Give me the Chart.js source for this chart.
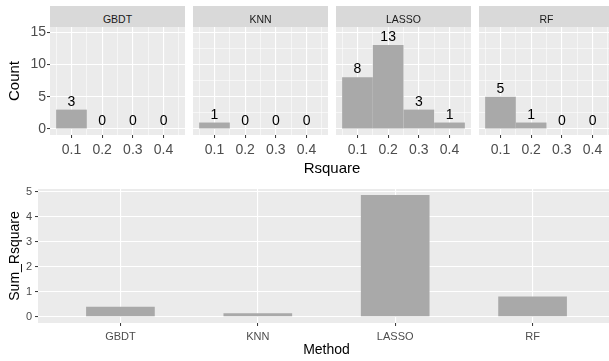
<!DOCTYPE html>
<html>
<head>
<meta charset="utf-8">
<script src="https://cdn.jsdelivr.net/npm/chart.js@4.4.1/dist/chart.umd.min.js"></script>
<style>
  html, body { margin: 0; padding: 0; background: #fff; overflow: hidden; }
  #wrap { position: relative; width: 609px; height: 361px; overflow: hidden;
          font-family: "Liberation Sans", Arial, sans-serif; }
  canvas { position: absolute; }
  .strip { position: absolute; top: 6px; width: 135px; height: 21px; background: #d9d9d9;
           color: #1a1a1a; font-size: 10.5px; line-height: 26px; text-align: center; }
  #rsq { position: absolute; left: 282px; width: 100px; top: 159px; font-size: 15px;
         line-height: 18px; text-align: center; color: #000; }
</style>
</head>
<body>
<div id="wrap">
  <canvas id="p0" width="185" height="140" style="left:0;top:20px"></canvas>
  <canvas id="p1" width="135" height="140" style="left:193px;top:20px"></canvas>
  <canvas id="p2" width="135" height="140" style="left:336px;top:20px"></canvas>
  <canvas id="p3" width="135" height="140" style="left:479px;top:20px"></canvas>
  <div class="strip" style="left:50px">GBDT</div>
  <div class="strip" style="left:193px">KNN</div>
  <div class="strip" style="left:336px">LASSO</div>
  <div class="strip" style="left:479px">RF</div>
  <div id="rsq">Rsquare</div>
  <canvas id="bottom" width="615" height="181" style="left:0;top:180px"></canvas>
</div>
<script>
// data
const methods = ["GBDT", "KNN", "LASSO", "RF"];
const bins = [0.1, 0.2, 0.3, 0.4];
const countGBDT = [3, 0, 0, 0];
const countKNN = [1, 0, 0, 0];
const countLASSO = [8, 13, 3, 1];
const countRF = [5, 1, 0, 0];
const sumRsquare = [0.41, 0.15, 4.87, 0.81];

// grid / tick positions (majors get labels, halves are minor lines)
const binGrid = [0.05, 0.1, 0.15, 0.2, 0.25, 0.3, 0.35, 0.4, 0.45];
const countGrid = [0, 2.5, 5, 7.5, 10, 12.5, 15];
const sumGrid = [0, 0.5, 1, 1.5, 2, 2.5, 3, 3.5, 4, 4.5, 5];

const FONT = '"Liberation Sans", Arial, sans-serif';
const panelCounts = [countGBDT, countKNN, countLASSO, countRF];

const isMajorBin = v => Math.abs(v * 10 - Math.round(v * 10)) < 1e-6;
const isMajorCount = v => v % 5 === 0;
const isMajorSum = v => Number.isInteger(v);

const panelBg = {
  id: "panelBg",
  beforeDraw(chart) {
    const { ctx, chartArea: a } = chart;
    ctx.save();
    ctx.fillStyle = "#ebebeb";
    ctx.fillRect(a.left, a.top, a.right - a.left, a.bottom - a.top);
    ctx.restore();
  }
};

const barLabels = {
  id: "barLabels",
  afterDatasetsDraw(chart) {
    const { ctx } = chart;
    const ds = chart.data.datasets[0];
    ctx.save();
    ctx.font = "14px " + FONT;
    ctx.fillStyle = "#000";
    ctx.textAlign = "center";
    ctx.textBaseline = "alphabetic";
    chart.getDatasetMeta(0).data.forEach((bar, i) => {
      ctx.fillText(String(ds.data[i].y), bar.x, bar.y - 4);
    });
    ctx.restore();
  }
};

function gridOpts(isMajor, majorW, minorW, showTicks) {
  return {
    offset: false,
    color: "#ffffff",
    lineWidth: c => (c.tick && isMajor(c.tick.value)) ? majorW : minorW,
    drawTicks: showTicks,
    tickLength: 3,
    tickWidth: 1,
    tickColor: c => (c.tick && isMajor(c.tick.value)) ? "#333333" : "rgba(0,0,0,0)"
  };
}

function histPanel(id, counts, first) {
  return new Chart(document.getElementById(id), {
    type: "bar",
    data: {
      datasets: [{
        data: bins.map((b, i) => ({ x: b, y: counts[i] })),
        backgroundColor: "#a9a9a9",
        borderWidth: 0,
        categoryPercentage: 1,
        // ruler uses the 0.05 grid spacing, so 2 gives a full 0.1 bin
        barPercentage: 2
      }]
    },
    options: {
      responsive: false,
      animation: false,
      layout: { padding: { top: 7, left: 0, right: 0, bottom: 0 } },
      plugins: { legend: { display: false }, tooltip: { enabled: false } },
      scales: {
        x: {
          type: "linear", min: 0.03, max: 0.47, offset: false,
          afterBuildTicks: s => { s.ticks = binGrid.map(v => ({ value: v })); },
          afterFit: s => { s.height = 25; s.paddingLeft = 0; s.paddingRight = 0; },
          grid: gridOpts(isMajorBin, 1.1, 0.55, true),
          border: { display: false },
          ticks: {
            autoSkip: false, maxRotation: 0, padding: 4, color: "#4d4d4d",
            font: { size: 14, family: FONT },
            callback: v => isMajorBin(v) ? v.toFixed(1) : ""
          }
        },
        y: {
          type: "linear", min: -0.93, max: 15.8,
          afterBuildTicks: s => { s.ticks = countGrid.map(v => ({ value: v })); },
          afterFit: s => { s.width = first ? 50 : 0; s.paddingTop = 0; s.paddingBottom = 0; },
          grid: gridOpts(isMajorCount, 1.1, 0.55, first),
          border: { display: false },
          ticks: {
            display: first, padding: 1, color: "#4d4d4d",
            font: { size: 14, family: FONT },
            callback: v => isMajorCount(v) ? String(v) : ""
          },
          title: {
            display: first, text: "Count", color: "#000",
            font: { size: 15, family: FONT }, padding: { top: 6, bottom: 0 }
          }
        }
      }
    },
    plugins: [panelBg, barLabels]
  });
}

["p0", "p1", "p2", "p3"].forEach((id, i) => histPanel(id, panelCounts[i], i === 0));

new Chart(document.getElementById("bottom"), {
  type: "bar",
  data: {
    datasets: [{
      data: methods.map((m, i) => ({ x: i + 1, y: sumRsquare[i] })),
      backgroundColor: "#a9a9a9",
      borderWidth: 0,
      categoryPercentage: 1,
      barPercentage: 0.5
    }]
  },
  options: {
    responsive: false,
    animation: false,
    layout: { padding: { top: 9, left: 0, right: 0, bottom: 0 } },
    plugins: { legend: { display: false }, tooltip: { enabled: false } },
    scales: {
      x: {
        type: "linear", min: 0.4, max: 4.6, offset: false,
        afterBuildTicks: s => { s.ticks = methods.map((m, i) => ({ value: i + 1 })); },
        afterFit: s => { s.height = 38; s.paddingLeft = 0; s.paddingRight = 0; },
        grid: gridOpts(() => true, 1.1, 1.1, true),
        border: { display: false },
        ticks: {
          autoSkip: false, maxRotation: 0, padding: 4, color: "#4d4d4d",
          font: { size: 11, family: FONT },
          callback: v => methods[v - 1] || ""
        },
        title: {
          display: true, text: "Method", color: "#000",
          font: { size: 14, family: FONT }, padding: { top: 0, bottom: 2 }
        }
      },
      y: {
        type: "linear", min: -0.244, max: 5.11,
        afterBuildTicks: s => { s.ticks = sumGrid.map(v => ({ value: v })); },
        afterFit: s => { s.width = 38; s.paddingTop = 0; s.paddingBottom = 0; },
        grid: gridOpts(isMajorSum, 1.1, 0.55, true),
        border: { display: false },
        ticks: {
          padding: 3, color: "#4d4d4d",
          font: { size: 11, family: FONT },
          callback: v => isMajorSum(v) ? String(v) : ""
        },
        title: {
          display: true, text: "Sum_Rsquare", color: "#000",
          font: { size: 14, family: FONT }, padding: { top: 7, bottom: 0 }
        }
      }
    }
  },
  plugins: [panelBg]
});
</script>
</body>
</html>
